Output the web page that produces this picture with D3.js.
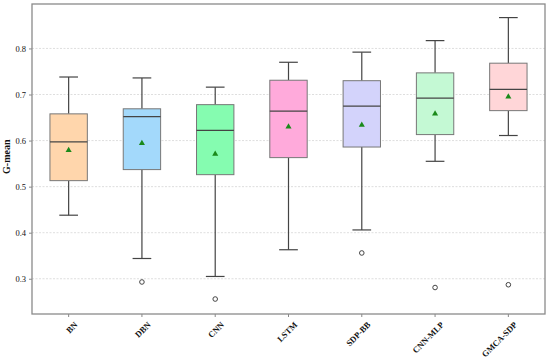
<!DOCTYPE html>
<html>
<head>
<meta charset="UTF-8">
<title>G-mean boxplot</title>
<script src="https://cdn.jsdelivr.net/npm/d3@7"></script>
<style>
  body { margin: 0; background: #fff; }
  svg text { font-family: "Liberation Serif", "DejaVu Serif", serif; }
</style>
</head>
<body>
<svg id="chart" width="550" height="359"></svg>
<script>
// methods on the x axis
var methods = ['BN', 'DBN', 'CNN', 'LSTM', 'SDP-BB', 'CNN-MLP', 'GMCA-SDP'];
// box statistics
var whiskerLow  = [0.438, 0.344, 0.305, 0.363, 0.406, 0.555, 0.611];
var q1          = [0.513, 0.537, 0.526, 0.563, 0.586, 0.613, 0.665];
var median      = [0.597, 0.652, 0.622, 0.664, 0.675, 0.692, 0.711];
var q3          = [0.658, 0.669, 0.678, 0.731, 0.730, 0.747, 0.768];
var whiskerHigh = [0.738, 0.736, 0.716, 0.770, 0.792, 0.817, 0.867];
var means       = [0.579, 0.594, 0.571, 0.630, 0.634, 0.658, 0.695];
var outliers    = [[], [0.293], [0.256], [], [0.356], [0.281], [0.287]];
var boxColors   = ['#ffd6ac', '#a3d9fb', '#85fcb0', '#ffaadb', '#d3d3fb', '#c4f9d4', '#ffd6d8'];
var yTicks      = [0.3, 0.4, 0.5, 0.6, 0.7, 0.8];

var margin = {top: 4, right: 5, bottom: 45, left: 32};
var width = 550 - margin.left - margin.right,
    height = 359 - margin.top - margin.bottom;

var svg = d3.select('#chart');
var g = svg.append('g').attr('transform', 'translate(' + margin.left + ',' + margin.top + ')');

var x = d3.scaleBand().domain(methods).range([0, width]).padding(0);
var y = d3.scaleLinear().domain([0.2235, 0.8965]).range([height, 0]);

// grid
g.selectAll('.grid').data(yTicks).enter().append('line')
  .attr('x1', 0).attr('x2', width)
  .attr('y1', function(d) { return y(d); })
  .attr('y2', function(d) { return y(d); })
  .attr('stroke', '#d6d6d6')
  .attr('stroke-width', 0.8)
  .attr('stroke-dasharray', '2,1.5');

var rows = methods.map(function(m, i) {
  return {name: m, lo: whiskerLow[i], q1: q1[i], med: median[i], q3: q3[i],
          hi: whiskerHigh[i], mean: means[i], out: outliers[i], color: boxColors[i]};
});

var boxW = x.bandwidth() * 0.51;
var capW = boxW * 0.5;

var box = g.selectAll('.box').data(rows).enter().append('g')
  .attr('transform', function(d) { return 'translate(' + (x(d.name) + x.bandwidth() / 2) + ',0)'; });

// whiskers
box.append('line')
  .attr('x1', 0).attr('x2', 0)
  .attr('y1', function(d) { return y(d.hi); })
  .attr('y2', function(d) { return y(d.q3); })
  .attr('stroke', '#444').attr('stroke-width', 1.2);
box.append('line')
  .attr('x1', 0).attr('x2', 0)
  .attr('y1', function(d) { return y(d.q1); })
  .attr('y2', function(d) { return y(d.lo); })
  .attr('stroke', '#444').attr('stroke-width', 1.2);
box.append('line')
  .attr('x1', -capW / 2).attr('x2', capW / 2)
  .attr('y1', function(d) { return y(d.hi); })
  .attr('y2', function(d) { return y(d.hi); })
  .attr('stroke', '#444').attr('stroke-width', 1.2);
box.append('line')
  .attr('x1', -capW / 2).attr('x2', capW / 2)
  .attr('y1', function(d) { return y(d.lo); })
  .attr('y2', function(d) { return y(d.lo); })
  .attr('stroke', '#444').attr('stroke-width', 1.2);

// boxes
box.append('rect')
  .attr('x', -boxW / 2).attr('width', boxW)
  .attr('y', function(d) { return y(d.q3); })
  .attr('height', function(d) { return y(d.q1) - y(d.q3); })
  .attr('fill', function(d) { return d.color; })
  .attr('stroke', '#777').attr('stroke-width', 1);

// median
box.append('line')
  .attr('x1', -boxW / 2).attr('x2', boxW / 2)
  .attr('y1', function(d) { return y(d.med); })
  .attr('y2', function(d) { return y(d.med); })
  .attr('stroke', '#444').attr('stroke-width', 1.2);

// mean marker
box.append('path')
  .attr('d', d3.symbol().type(d3.symbolTriangle).size(16))
  .attr('transform', function(d) { return 'translate(0,' + y(d.mean) + ')'; })
  .attr('fill', '#1a8a1a');

// outliers
box.selectAll('.out').data(function(d) { return d.out; }).enter().append('circle')
  .attr('cx', 0).attr('cy', function(d) { return y(d); })
  .attr('r', 2.3)
  .attr('fill', 'none').attr('stroke', '#444').attr('stroke-width', 1);

// axes
var yAxis = g.append('g').call(d3.axisLeft(y).tickValues(yTicks).tickSize(3).tickPadding(3).tickFormat(d3.format('.1f')));
var xAxis = g.append('g').attr('transform', 'translate(0,' + height + ')')
  .call(d3.axisBottom(x).tickSize(3).tickPadding(2));

[yAxis, xAxis].forEach(function(a) {
  a.select('.domain').remove();
  a.selectAll('.tick line').attr('stroke', '#888');
  a.selectAll('text').attr('fill', '#111');
});
yAxis.selectAll('text').style('font-size', '8.5px');
xAxis.selectAll('text')
  .style('font-size', '8.5px').style('font-weight', 'bold')
  .attr('text-anchor', 'end')
  .attr('dy', '0.3em')
  .attr('transform', 'translate(4,6) rotate(-45)');

// frame
g.append('rect').attr('x', 0).attr('y', 0).attr('width', width).attr('height', height)
  .attr('fill', 'none').attr('stroke', '#8a8a8a').attr('stroke-width', 1.3);

// y label
svg.append('text')
  .attr('transform', 'translate(10,' + (margin.top + y(0.565)) + ') rotate(-90)')
  .attr('text-anchor', 'middle')
  .attr('fill', '#111')
  .style('font-size', '10px').style('font-weight', 'bold')
  .text('G-mean');
</script>
</body>
</html>
